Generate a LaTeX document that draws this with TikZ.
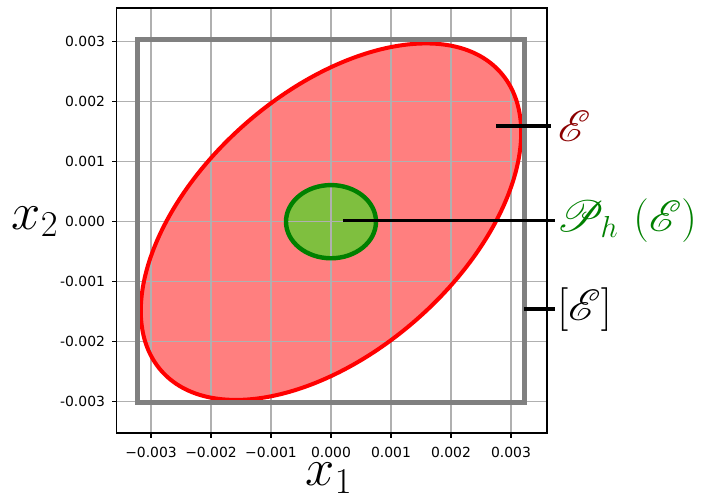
\documentclass[tikz,border=0pt]{standalone}
\usepackage{fontspec}
\usepackage{mathrsfs}
\newfontfamily\tickfont{DejaVu Sans}
\usetikzlibrary{positioning}
\definecolor{hullgray}{RGB}{128,128,128}
\definecolor{gridgray}{RGB}{176,176,176}
\definecolor{setgreen}{RGB}{0,128,0}
\definecolor{labelred}{RGB}{139,0,0}
\tikzset{
  gridline/.style={gridgray, line width=0.5pt},
  axisframe/.style={black, line width=0.6pt},
  tickmark/.style={black, line width=0.6pt},
  ticklabel/.style={font=\tickfont\fontsize{6.6}{8}\selectfont, inner sep=0pt},
  axislabel/.style={font=\fontsize{23}{28}\selectfont, inner sep=0pt},
  setlabel/.style={font=\fontsize{22}{26}\selectfont, inner ysep=0pt, anchor=west},
  pointer/.style={black, line width=1.8pt},
  hullbox/.style={hullgray, line width=2.4pt},
  outerfill/.style={fill=red, fill opacity=0.5},
  innerfill/.style={fill=green, fill opacity=0.5},
  outeredge/.style={draw=red, line width=1.9pt},
  inneredge/.style={draw=setgreen, line width=2.1pt}
}

\begin{document}
\begin{tikzpicture}
  \useasboundingbox (-5.517,-4.528) rectangle (6.567,3.695);

  % the ellipsoidal set and its projection (fills)
  \path[outerfill, rotate=41.3] (0,0) ellipse (3.765 and 2.167);
  \path[innerfill] (0,0) ellipse (0.75 and 0.61);

  % grid of the plot
  \foreach \v in {-3,...,3} {
    \draw[gridline] (\v,-3.52) -- (\v,3.56);
    \draw[gridline] (-3.57,\v) -- (3.60,\v);
  }

  % edges and the interval hull
  \draw[outeredge, rotate=41.3] (0,0) ellipse (3.765 and 2.167);
  \draw[inneredge] (0,0) ellipse (0.75 and 0.61);
  \draw[hullbox] (-3.23,-3.02) rectangle (3.22,3.03);

  % axes frame, ticks and tick labels
  \draw[axisframe] (-3.57,-3.52) rectangle (3.60,3.56);
  \foreach \v/\t [count=\k] in {-3/−0.003,-2/−0.002,-1/−0.001,0/0.000,1/0.001,2/0.002,3/0.003} {
    \draw[tickmark] (\v,-3.52) -- ++(0,-0.08);
    \node[ticklabel] (xtick\k) at (\v,-3.845) {\t};
  }
  \foreach \v/\t [count=\k] in {-3/-0.003,-2/-0.002,-1/-0.001,0/0.000,1/0.001,2/0.002,3/0.003} {
    \draw[tickmark] (-3.57,\v) -- ++(-0.08,0);
    \node[ticklabel, anchor=east] (ytick\k) at (-3.76,\v) {\t};
  }
  \node[axislabel] (xlab) at (-0.03,-4.27) {$x_1$};
  \node[axislabel] (ylab) at (-4.93,0.0) {$x_2$};

  % labels with their pointers
  \coordinate (Ein) at (2.75,1.595);
  \coordinate (Pin) at (0.2,0.02);
  \coordinate (hullR) at (3.22,-1.46);
  \node[setlabel, inner xsep=3pt, labelred, font=\fontsize{21}{26}\selectfont] (lblE) at (3.67,1.595) {$\mathscr{E}$};
  \node[setlabel, inner xsep=0.5pt, setgreen] (lblP) at (3.73,0.02) {$\mathscr{P}_h\,\left(\mathscr{E}\right)$};
  \node[setlabel, inner xsep=1pt] (lblH) at (3.73,-1.46) {$\left[\mathscr{E}\right]$};
  \draw[pointer] (Ein) -- (lblE.west);
  \draw[pointer] (Pin) -- (lblP.west);
  \draw[pointer] (hullR) -- (lblH.west);
\end{tikzpicture}
\end{document}
